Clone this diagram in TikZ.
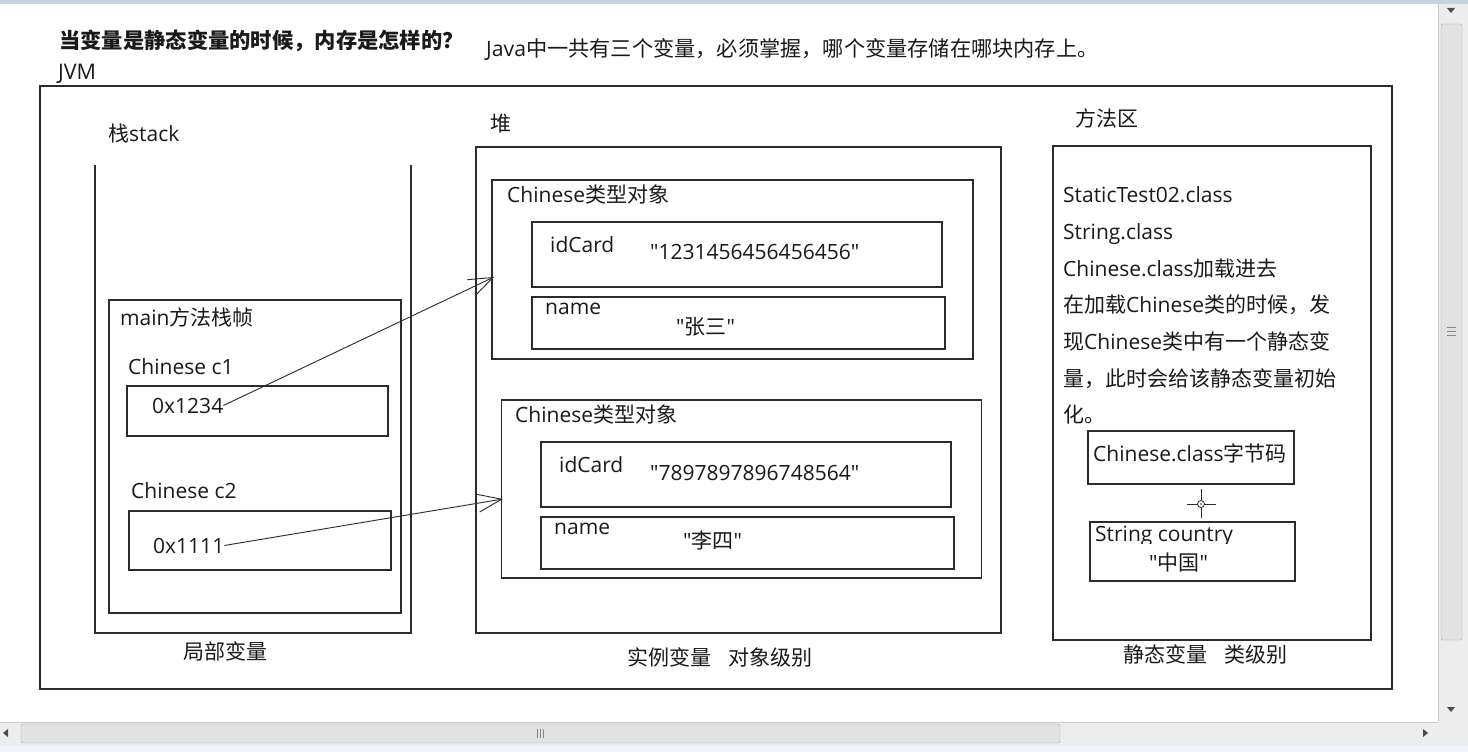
\documentclass[tikz,border=0pt]{standalone}
\usepackage{fontspec}
\setmainfont{Open Sans}[Ligatures=TeXOff]
\newfontfamily\cjk{Noto Sans CJK SC}
\usetikzlibrary{arrows.meta}
\definecolor{linec}{HTML}{2B2B2B}
\definecolor{txtc}{HTML}{1A1A1A}
\definecolor{sbtrack}{HTML}{EDEDED}
\definecolor{sbthumb}{HTML}{E2E2E2}
\definecolor{sbedge}{HTML}{A8A8A8}
\definecolor{topband}{HTML}{C8D2DE}
\definecolor{bottomstrip}{HTML}{F0F3F7}
\begin{document}
\begin{tikzpicture}[x=1pt,y=-1pt,
  box/.style={draw=linec, line width=1.2pt, inner sep=0pt, outer sep=0pt, anchor=north west},
  txt/.style={anchor=base west, inner sep=0pt, text=txtc, font=\fontsize{21}{25}\selectfont},
  ptr/.style={draw=linec, line width=0.9pt, -{Straight Barb[length=24pt,width=18pt,line width=0.9pt]}}
]
\useasboundingbox (0,0) rectangle (1468,752);
\fill[white] (0,0) rectangle (1468,752);
\fill[topband] (0,0) rectangle (1468,4);

% headings
\node[txt, font=\fontsize{21.3}{25}\selectfont\cjk\bfseries] (title) at (59,49) {当变量是静态变量的时候，内存是怎样的？};
\node[txt, font=\fontsize{21.5}{24}\selectfont] (jvm) at (58,80) {JVM};
\node[txt, font=\fontsize{21.2}{24}\selectfont] (note) at (486,57) {Java{\cjk 中一共有三个变量，必须掌握，哪个变量存储在哪块内存上。}};

% JVM frame
\node[box, minimum width=1352pt, minimum height=603pt] (jvmbox) at (40,86) {};

% stack
\node[txt] (stacklbl) at (108,141.5) {{\cjk 栈}stack};
\draw[linec, line width=1.2pt] (95,165) -- (95,633) -- (411,633) -- (411,165);
\node[txt] (locallbl) at (183,659) {\cjk 局部变量};
\node[box, minimum width=292pt, minimum height=313pt] (frame) at (109,300) {};
\node[txt] (framelbl) at (120,325) {main{\cjk 方法栈帧}};
\node[txt] (c1lbl) at (128,374) {Chinese c1};
\node[box, minimum width=261pt, minimum height=50pt] (c1box) at (127,386) {};
\node[txt] (v1) at (152,413) {0x1234};
\node[txt] (c2lbl) at (131,498) {Chinese c2};
\node[box, minimum width=262pt, minimum height=59pt] (c2box) at (129,511) {};
\node[txt] (v2) at (153,553) {0x1111};

% heap
\node[txt] (heaplbl) at (490,131) {\cjk 堆};
\node[box, minimum width=525pt, minimum height=486pt] (heap) at (476,147) {};
\node[txt] (instlbl) at (627,665) {\cjk 实例变量\hspace{0.8em}对象级别};

\node[box, minimum width=481pt, minimum height=179pt] (obj1) at (492,180) {};
\node[txt] (obj1lbl) at (507,202) {Chinese{\cjk 类型对象}};
\node[box, minimum width=410pt, minimum height=65pt] (id1) at (532,222) {};
\node[txt] (id1lbl) at (550,252) {idCard};
\node[txt] (id1val) at (650,259) {"1231456456456456"};
\node[box, minimum width=413pt, minimum height=52pt] (nm1) at (532,297) {};
\node[txt] (nm1lbl) at (545,314) {name};
\node[txt] (nm1val) at (676,334) {"{\cjk 张三}"};

\node[box, minimum width=480pt, minimum height=178pt] (obj2) at (501.5,400) {};
\node[txt] (obj2lbl) at (515,422) {Chinese{\cjk 类型对象}};
\node[box, minimum width=410pt, minimum height=65pt] (id2) at (541,442) {};
\node[txt] (id2lbl) at (559,472) {idCard};
\node[txt] (id2val) at (650,480) {"7897897896748564"};
\node[box, minimum width=413pt, minimum height=52pt] (nm2) at (541,517) {};
\node[txt] (nm2lbl) at (554,534) {name};
\node[txt] (nm2val) at (683,548) {"{\cjk 李四}"};

% method area
\node[txt] (methlbl) at (1075,126) {\cjk 方法区};
\node[box, minimum width=318pt, minimum height=494pt] (meth) at (1053,146) {};
\node[txt] (m1) at (1063,202) {StaticTest02.class};
\node[txt] (m2) at (1063,239) {String.class};
\node[txt] (m3) at (1063,276) {Chinese.class{\cjk 加载进去}};
\node[txt] (m4) at (1063,312.5) {{\cjk 在加载}Chinese{\cjk 类的时候，发}};
\node[txt] (m5) at (1063,349) {{\cjk 现}Chinese{\cjk 类中有一个静态变}};
\node[txt] (m6) at (1063,386) {\cjk 量，此时会给该静态变量初始};
\node[txt] (m7) at (1063,422.5) {\cjk 化。};
\node[box, minimum width=206pt, minimum height=53pt] (bytecode) at (1088,431) {};
\node[txt] (bclbl) at (1093,461.5) {Chinese.class{\cjk 字节码}};
\node[box, minimum width=205pt, minimum height=59pt] (country) at (1090,522) {};
\begin{scope}
  \clip (1091,523) rectangle (1294,543);
  \node[txt] (ctlbl) at (1095,541.5) {String country};
\end{scope}
\node[txt] (ctval) at (1149,570) {"{\cjk 中国}"};
\node[txt] (statlbl) at (1123,662) {\cjk 静态变量\hspace{0.8em}类级别};

% cursor mark
\draw[linec, line width=0.9pt] (1187,504) -- (1216,504) (1201,489) -- (1201,518);
\draw[linec, line width=0.8pt, fill=white] (1201,504) circle (3.5pt);
\fill[linec] (1201,504) circle (0.9pt);

% pointers
\coordinate (t1) at (494,277);
\coordinate (t2) at (503,499);
\draw[ptr] (v1.east) -- (t1);
\draw[ptr] (v2.east) -- (t2);

% vertical scrollbar
\fill[sbtrack] (1438,4) rectangle (1468,722);
\draw[sbedge!60] (1438,4) -- (1438,722);
\draw[sbedge, fill=sbthumb, rounded corners=2pt] (1441,24) rectangle (1462,640);
\draw[sbedge!80!black, line width=0.7pt] (1447,327) -- (1456,327) (1447,331) -- (1456,331) (1447,335) -- (1456,335);
\fill[black!70] (1447,8) -- (1455,8) -- (1451,13) -- cycle;
\fill[black!70] (1447,707) -- (1455,707) -- (1451,712) -- cycle;

% horizontal scrollbar
\fill[sbtrack] (0,722) rectangle (1438,745);
\draw[sbedge!60] (0,722) -- (1438,722);
\draw[sbedge, fill=sbthumb, rounded corners=2pt] (21,724) rectangle (1060,743);
\draw[sbedge!80!black, line width=0.7pt] (537,729) -- (537,738) (540,729) -- (540,738) (543,729) -- (543,738);
\fill[black!70] (3,733) -- (8,729) -- (8,737) -- cycle;
\fill[black!70] (1428,733) -- (1423,729) -- (1423,737) -- cycle;
\fill[sbtrack] (1438,722) rectangle (1468,745);
\fill[bottomstrip] (0,745) rectangle (1468,752);
\end{tikzpicture}
\end{document}
